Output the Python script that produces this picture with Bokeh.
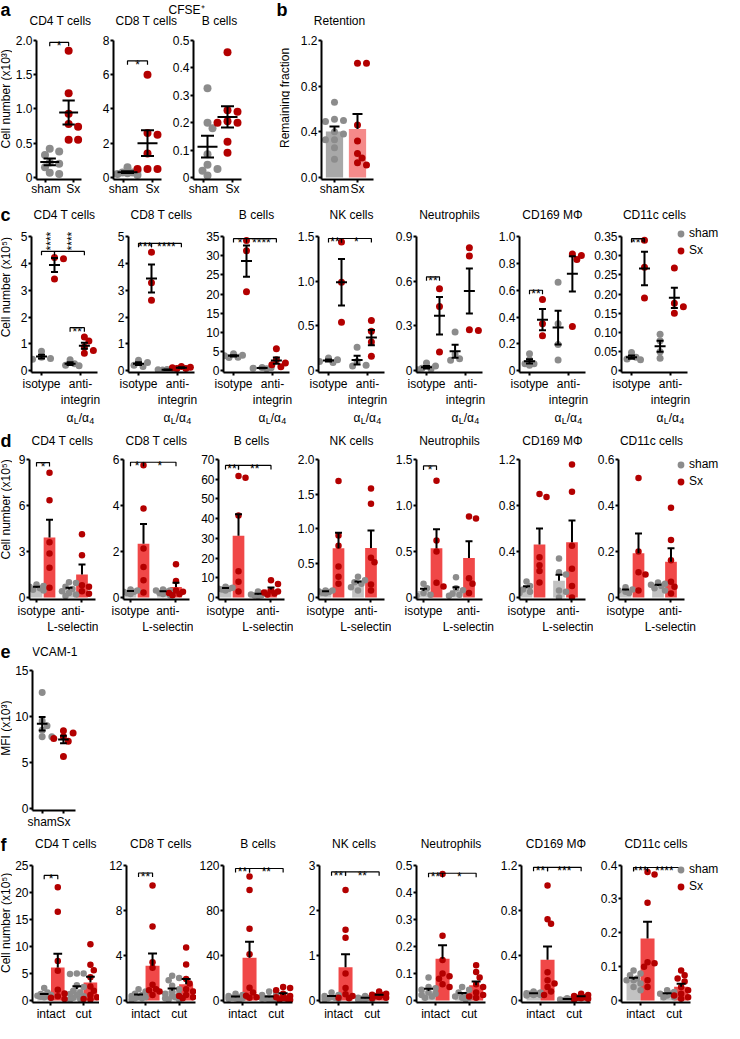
import math
import statistics
from bokeh.plotting import figure
from bokeh.models import FixedTicker, Label, Legend, LegendItem, Range1d
from bokeh.layouts import row, column
from bokeh.embed import file_html
from bokeh.resources import INLINE

FONT = "Liberation Sans"
PT_SHAM = "#8c8c8c"
PT_SX = "#b30000"
BAR_SHAM = "#c2c2c2"
BAR_SX = "#f04848"
BAR_SHAM_B = "#a8a8a8"
BAR_SX_B = "#f58a8a"

CELL_TITLES = ["CD4 T cells", "CD8 T cells", "B cells", "NK cells", "Neutrophils",
               "CD169 M\u03a6", "CD11c cells"]

# ---------------- panel a : CFSE+ cells, groups [sham, Sx] ----------------
A_XLAB = ["sham", "Sx"]
A_CD4 = [[0.42, 0.38, 0.33, 0.22, 0.20, 0.15, 0.07, 0.05],
         [1.85, 1.23, 0.93, 0.78, 0.74, 0.55, 0.55]]
A_CD8 = [[0.6, 0.4, 0.3, 0.25, 0.2, 0.15, 0.3],
         [6.0, 2.6, 2.5, 1.4, 0.5, 0.5, 0.5]]
A_B = [[0.325, 0.2, 0.18, 0.085, 0.047, 0.025, 0.031, 0.007],
       [0.457, 0.245, 0.24, 0.205, 0.2, 0.2, 0.13, 0.09]]
A_TICKS = [[0, 0.5, 1.0, 1.5, 2.0], [0, 2, 4, 6, 8], [0, 0.1, 0.2, 0.3, 0.4, 0.5]]
A_TLAB = [["0", "0.5", "1.0", "1.5", "2.0"], ["0", "2", "4", "6", "8"],
          ["0", "0.1", "0.2", "0.3", "0.4", "0.5"]]
A_SIG = [[(0, 1, 1.97, "*", False)], [(0, 1, 6.8, "*", False)], []]

# ---------------- panel b : retention ----------------
B_RET = [[0.66, 0.51, 0.5, 0.49, 0.4, 0.38, 0.33, 0.33, 0.26, 0.16],
         [1.0, 1.0, 0.46, 0.32, 0.21, 0.17, 0.13, 0.11]]
B_TICKS = [0, 0.4, 0.8, 1.2]
B_TLAB = ["0.0", "0.4", "0.8", "1.2"]

# ---------------- panel c : groups [sham iso, Sx iso, sham anti, Sx anti] ----------------
C_XLAB = ["isotype", "anti-\nintegrin"]
C_CD4 = [[0.72, 0.5, 0.42, 0.45], [4.22, 4.18, 3.42], [0.4, 0.25, 0.2, 0.18], [1.25, 1.1, 0.88, 0.75, 0.65]]
C_CD8 = [[0.38, 0.3, 0.2, 0.15], [4.42, 3.28, 2.63], [0.04, 0.03, 0.03, 0.02, 0.03], [0.15, 0.1, 0.08, 0.08, 0.12]]
C_B = [[4.4, 4.0, 3.5, 3.4, 3.9], [34.0, 31.3, 20.6], [0.8, 0.5, 0.6, 0.7], [5.7, 2.8, 2.0, 1.5, 1.0]]
C_NK = [[0.14, 0.12, 0.1, 0.09], [1.44, 0.99, 0.54], [0.26, 0.1, 0.06, 0.05], [0.56, 0.44, 0.32, 0.16]]
C_NEUT = [[0.05, 0.03, 0.015, 0.01, 0.005], [0.55, 0.43, 0.125], [0.26, 0.11, 0.08, 0.07], [0.825, 0.77, 0.27, 0.275]]
C_CD169 = [[0.125, 0.08, 0.05, 0.04, 0.05], [0.53, 0.35, 0.26], [0.66, 0.35, 0.195, 0.078], [0.87, 0.86, 0.83, 0.33]]
C_CD11C = [[0.047, 0.035, 0.03, 0.028], [0.341, 0.27, 0.19], [0.095, 0.078, 0.032, 0.049], [0.268, 0.176, 0.15, 0.167]]
C_TICKS = [[0, 1, 2, 3, 4, 5], [0, 1, 2, 3, 4, 5], [0, 5, 10, 15, 20, 25, 30, 35], [0, 0.5, 1.0, 1.5],
           [0, 0.3, 0.6, 0.9], [0, 0.2, 0.4, 0.6, 0.8, 1.0], [0, 0.05, 0.1, 0.15, 0.2, 0.25, 0.3, 0.35]]
C_TLAB = [["0", "1", "2", "3", "4", "5"], ["0", "1", "2", "3", "4", "5"],
          ["0", "5", "10", "15", "20", "25", "30", "35"], ["0", "0.5", "1.0", "1.5"],
          ["0", "0.3", "0.6", "0.9"], ["0", "0.2", "0.4", "0.6", "0.8", "1.0"],
          ["0", "0.05", "0.10", "0.15", "0.20", "0.25", "0.30", "0.35"]]
C_SIG = [[(0, 1, 4.45, "****", True), (1, 3, 4.45, "****", True), (2, 3, 1.6, "**", False)],
         [(0, 1, 4.75, "***", False), (1, 3, 4.75, "****", False)],
         [(0, 1, 34.5, "*", False), (1, 3, 34.5, "****", False)],
         [(0, 1, 1.48, "**", False), (1, 3, 1.48, "*", False)],
         [(0, 1, 0.63, "**", False)],
         [(0, 1, 0.6, "**", False)],
         [(0, 1, 0.345, "***", False)]]

# ---------------- panel d : groups [sham iso, Sx iso, sham anti, Sx anti] ----------------
D_XLAB = ["isotype", "anti-\nL-selectin"]
D_CD4 = [[0.85, 0.75, 0.7, 0.6, 0.5, 0.45], [8.13, 6.35, 3.6, 2.87, 1.94, 0.63],
         [1.0, 0.95, 0.7, 0.55, 0.4, 0.3, 0.2, 0.1], [4.13, 2.76, 0.8, 0.7, 0.4, 0.25]]
D_CD8 = [[0.35, 0.3, 0.25, 0.2, 0.15, 0.25], [5.75, 3.87, 2.13, 1.33, 0.75, 0.22],
         [0.35, 0.3, 0.2, 0.15, 0.1, 0.25, 0.3], [1.45, 0.72, 0.3, 0.2, 0.15, 0.1, 0.25]]
D_B = [[5.5, 5.0, 4.5, 4.0, 3.5, 4.5], [61.6, 60.8, 41.6, 13.3, 8.0, 3.0],
       [3.0, 2.0, 1.5, 1.0, 0.8, 1.2], [8.8, 6.8, 3.5, 2.5, 2.0, 1.5, 3.0]]
D_NK = [[0.1, 0.08, 0.07, 0.06, 0.09, 0.1], [1.69, 0.9, 0.75, 0.45, 0.3, 0.2],
        [0.3, 0.25, 0.2, 0.15, 0.1, 0.22], [1.58, 1.36, 0.575, 0.51, 0.19, 0.1]]
D_NEUT = [[0.15, 0.1, 0.05, 0.02, 0.03], [1.27, 0.62, 0.5, 0.16, 0.12],
          [0.22, 0.1, 0.08, 0.04, 0.03, 0.02], [0.88, 0.86, 0.21, 0.15, 0.05]]
D_CD169 = [[0.14, 0.1, 0.07, 0.05, 0.04], [0.9, 0.875, 0.35, 0.28, 0.23, 0.13],
           [0.34, 0.22, 0.2, 0.06, 0.05, 0.0], [1.157, 0.92, 0.45, 0.25, 0.1, 0.0]]
D_CD11C = [[0.045, 0.035, 0.03, 0.025, 0.02], [0.52, 0.2, 0.11, 0.1, 0.03],
           [0.065, 0.06, 0.05, 0.04, 0.03, 0.055], [0.39, 0.25, 0.162, 0.068, 0.047, 0.017]]
D_TICKS = [[0, 3, 6, 9], [0, 2, 4, 6], [0, 10, 20, 30, 40, 50, 60, 70], [0, 0.5, 1.0, 1.5, 2.0],
           [0, 0.5, 1.0, 1.5], [0, 0.4, 0.8, 1.2], [0, 0.2, 0.4, 0.6]]
D_TLAB = [["0", "3", "6", "9"], ["0", "2", "4", "6"], ["0", "10", "20", "30", "40", "50", "60", "70"],
          ["0", "0.5", "1.0", "1.5", "2.0"], ["0", "0.5", "1.0", "1.5"], ["0", "0.4", "0.8", "1.2"],
          ["0", "0.2", "0.4", "0.6"]]
D_SIG = [[(0, 1, 8.8, "*", False)],
         [(0, 1, 5.88, "*", False), (1, 3, 5.88, "*", False)],
         [(0, 1, 67, "**", False), (1, 3, 67, "**", False)],
         [], [(0, 1, 1.43, "*", False)], [], []]

# ---------------- panel e : VCAM-1 ----------------
E_VCAM = [[12.6, 9.5, 9.0, 8.5, 7.8, 7.8], [8.45, 8.2, 7.8, 7.6, 7.3, 5.65]]
E_TICKS = [0, 5, 10, 15]
E_TLAB = ["0", "5", "10", "15"]

# ---------------- panel f : groups [sham intact, Sx intact, sham cut, Sx cut] ----------------
F_XLAB = ["intact", "cut"]
F_CD4 = [[2.3, 1.5, 1.2, 1.0, 0.9, 0.8, 0.6, 0.5, 0.7, 1.0],
         [20.9, 16.4, 7.3, 5.5, 2.0, 1.3, 0.8, 0.5, 0.3],
         [5.0, 5.0, 4.9, 2.8, 2.5, 1.8, 1.5, 1.2, 1.0, 0.8, 0.5, 0.3, 0.2],
         [10.4, 6.6, 5.6, 4.3, 2.6, 1.8, 1.0, 0.6, 0.3, 0.2]]
F_CD8 = [[1.0, 0.8, 0.6, 0.5, 0.4, 0.3, 0.3, 0.2, 0.2, 0.1],
         [10.2, 6.55, 3.4, 2.9, 1.4, 1.0, 0.9, 0.8, 0.5],
         [2.2, 2.0, 1.8, 1.3, 1.0, 0.8, 0.6, 0.5, 0.4, 0.3, 0.2, 0.1, 0.1],
         [4.7, 3.2, 1.9, 1.5, 1.0, 0.8, 0.5, 0.4, 0.3, 0.2]]
F_B = [[6, 5, 4, 3, 2.5, 2, 1.5, 1, 2], [110, 98, 63.5, 41, 11.3, 7.1, 4.2, 2.5, 3],
       [8, 6, 5, 3, 2.5, 2, 1.5, 1, 0.5, 2, 1], [12, 11, 9, 6, 4, 3, 2, 1.5, 1, 0.5]]
F_NK = [[0.18, 0.12, 0.1, 0.08, 0.06, 0.05, 0.04, 0.03],
        [2.45, 1.57, 1.39, 0.6, 0.28, 0.14, 0.1, 0.06, 0.05],
        [0.1, 0.08, 0.06, 0.05, 0.04, 0.03, 0.03, 0.02],
        [0.2, 0.15, 0.13, 0.12, 0.1, 0.08, 0.06, 0.05]]
F_NEUT = [[0.085, 0.05, 0.045, 0.04, 0.03, 0.025, 0.02, 0.015, 0.01],
          [0.467, 0.239, 0.15, 0.1, 0.09, 0.08, 0.06, 0.05],
          [0.05, 0.04, 0.03, 0.02, 0.015, 0.01, 0.01, 0.005],
          [0.13, 0.105, 0.085, 0.06, 0.05, 0.03, 0.02, 0.015, 0.01]]
F_CD169 = [[0.08, 0.07, 0.065, 0.06, 0.06, 0.05, 0.05, 0.045],
           [1.02, 0.72, 0.68, 0.25, 0.18, 0.15, 0.12, 0.08, 0.05],
           [0.02, 0.015, 0.01, 0.01, 0.005, 0.005],
           [0.06, 0.05, 0.04, 0.03, 0.025, 0.02, 0.015, 0.01]]
F_CD11C = [[0.089, 0.08, 0.075, 0.065, 0.06, 0.05, 0.04, 0.03, 0.06],
           [0.38, 0.372, 0.289, 0.113, 0.11, 0.1, 0.06, 0.04],
           [0.03, 0.025, 0.02, 0.02, 0.015, 0.01, 0.01],
           [0.089, 0.075, 0.065, 0.056, 0.04, 0.03, 0.02, 0.015, 0.01, 0.005]]
F_TICKS = [[0, 5, 10, 15, 20, 25], [0, 4, 8, 12], [0, 40, 80, 120], [0, 1, 2, 3],
           [0, 0.1, 0.2, 0.3, 0.4, 0.5], [0, 0.4, 0.8, 1.2], [0, 0.1, 0.2, 0.3, 0.4]]
F_TLAB = [["0", "5", "10", "15", "20", "25"], ["0", "4", "8", "12"], ["0", "40", "80", "120"],
          ["0", "1", "2", "3"], ["0", "0.1", "0.2", "0.3", "0.4", "0.5"], ["0", "0.4", "0.8", "1.2"],
          ["0", "0.1", "0.2", "0.3", "0.4"]]
F_SIG = [[(0, 1, 23.1, "*", False)],
         [(0, 1, 11.3, "**", False)],
         [(0, 1, 117, "**", False), (1, 3, 117, "**", False)],
         [(0, 1, 2.85, "**", False), (1, 3, 2.85, "**", False)],
         [(0, 1, 0.47, "**", False), (1, 3, 0.47, "*", False)],
         [(0, 1, 1.18, "**", False), (1, 3, 1.18, "***", False)],
         [(0, 1, 0.393, "***", False), (1, 3, 0.393, "****", False)]]

GROUP_COLS = [PT_SHAM, PT_SX, PT_SHAM, PT_SX]
BAR_COLS = [BAR_SHAM, BAR_SX, BAR_SHAM, BAR_SX]


# ---------------- helpers ----------------
def make_panel(L, F, W, top_page, zero_page, H0, B, x0, ppx, yticks, ylabels, xticks, xlabels,
               pad=2, xstandoff=1):
    top = yticks[-1]
    ppy = H0 / top
    Hf = zero_page + pad - top_page
    ys = -pad / ppy
    p = figure(width=L + F, height=Hf + B,
               x_range=Range1d(x0, x0 + F / ppx), y_range=Range1d(ys, (zero_page - top_page) / ppy),
               output_backend="svg", toolbar_location=None, tools="",
               min_border_left=L, min_border_right=0, min_border_top=0, min_border_bottom=B)
    p.outline_line_color = None
    p.xgrid.visible = False
    p.ygrid.visible = False
    p.background_fill_color = "white"
    p.border_fill_color = "white"
    for ax in (p.xaxis[0], p.yaxis[0]):
        ax.axis_line_width = 2
        ax.axis_line_color = "black"
        ax.major_tick_line_width = 2
        ax.major_tick_line_color = "black"
        ax.major_tick_out = 3
        ax.major_tick_in = 0
        ax.minor_tick_line_color = None
        ax.major_label_text_font = FONT
        ax.major_label_text_font_size = "12px"
        ax.major_label_text_color = "black"
    p.yaxis[0].ticker = FixedTicker(ticks=yticks, minor_ticks=[])
    p.yaxis[0].major_label_overrides = dict(zip(yticks, ylabels))
    p.yaxis[0].major_label_standoff = 1
    p.yaxis[0].bounds = (ys, top)
    p.xaxis[0].ticker = FixedTicker(ticks=xticks, minor_ticks=[])
    p.xaxis[0].major_label_overrides = dict(zip(xticks, xlabels))
    p.xaxis[0].major_label_standoff = xstandoff
    p.xaxis[0].bounds = (x0, x0 + W / ppx)
    return dict(p=p, ppx=ppx, ppy=ppy, x0=x0, top=top, W=W, zero=zero_page)


def make_strip(w, h):
    p = figure(width=w, height=h, x_range=Range1d(0, w), y_range=Range1d(0, h),
               output_backend="svg", toolbar_location=None, tools="",
               x_axis_type=None, y_axis_type=None, min_border=0)
    p.outline_line_color = None
    p.background_fill_color = "white"
    p.border_fill_color = "white"
    p.xgrid.visible = False
    p.ygrid.visible = False
    return dict(p=p, h=h)


def label(p, x, y, s, size=12, align="center", baseline="middle", bold=False, angle=0.0, xoff=0):
    p.add_layout(Label(x=x, y=y, text=s, text_font=FONT, text_font_size=f"{size}px",
                       text_align=align, text_baseline=baseline,
                       text_font_style="bold" if bold else "normal",
                       angle=angle, x_offset=xoff, text_color="black"))


def stxt(S, x, y_from_top, s, **kw):
    label(S["p"], x, S["h"] - y_from_top, s, **kw)


def xd(P, px):
    return P["x0"] + px / P["ppx"]


def ypage(P, page_y):
    return (P["zero"] - page_y) / P["ppy"]


def dodge(vals, ppy, dot, step, maxk):
    order = sorted(range(len(vals)), key=lambda i: -vals[i])
    cands = [0.0]
    for k in range(1, maxk + 1):
        cands += [k * step, -k * step]
    placed = []
    offs = [0.0] * len(vals)
    for i in order:
        yy = vals[i] * ppy
        best, bestd = 0.0, -1.0
        for c in cands:
            dmin = min([math.hypot(c - xo, yy - yo) for xo, yo in placed], default=1e9)
            if dmin >= dot:
                best = c
                break
            if dmin > bestd:
                bestd, best = dmin, c
        offs[i] = best
        placed.append((best, yy))
    return offs


def draw_groups(P, groups, xs, cols, dot, step, maxk, kind, bar_cols=None, bar_w=None,
                mean_hw=5.0, cap_hw=3.5):
    p = P["p"]
    means = [sum(g) / len(g) for g in groups]
    sems = [statistics.stdev(g) / math.sqrt(len(g)) for g in groups]
    if kind == "bar":
        p.vbar(x=xs, top=means, bottom=0, width=bar_w, fill_color=bar_cols, line_color=None)
    rends = {}
    for col in (PT_SHAM, PT_SX):
        px, py = [], []
        for g, x, c in zip(groups, xs, cols):
            if c != col:
                continue
            offs = dodge(g, P["ppy"], dot * 0.85, step, maxk)
            px += [x + o / P["ppx"] for o in offs]
            py += list(g)
        rends[col] = p.scatter(px, py, size=dot, fill_color=col, line_color=None)
    x0, y0, x1, y1 = [], [], [], []

    def seg(a, b, c, d):
        x0.append(a); y0.append(b); x1.append(c); y1.append(d)

    hwm = mean_hw / P["ppx"]
    hwc = cap_hw / P["ppx"]
    for x, m, s in zip(xs, means, sems):
        if kind == "bar":
            seg(x, m, x, m + s)
            seg(x - hwc, m + s, x + hwc, m + s)
        else:
            seg(x - hwm, m, x + hwm, m)
            seg(x, m - s, x, m + s)
            seg(x - hwc, m - s, x + hwc, m - s)
            seg(x - hwc, m + s, x + hwc, m + s)
    p.segment(x0, y0, x1, y1, line_color="black", line_width=2)
    return rends


def brackets(P, xs, specs):
    if not specs:
        return
    xl, yl = [], []
    for i, j, y, s, vert in specs:
        xa, xb = xs[i], xs[j]
        d = 4 / P["ppy"]
        xl.append([xa, xa, xb, xb])
        yl.append([y - d, y, y, y - d])
        mid = (xa + xb) / 2
        if vert:
            label(P["p"], mid, y + 1 / P["ppy"], s, align="left", baseline="middle",
                  angle=math.pi / 2, xoff=3)
        else:
            label(P["p"], mid, y - 4 / P["ppy"], s, align="center", baseline="alphabetic")
    P["p"].multi_line(xl, yl, line_color="black", line_width=1.2)


def add_legend(P, rends, vx, vy):
    leg = Legend(items=[LegendItem(label="sham", renderers=[rends[PT_SHAM]]),
                        LegendItem(label="Sx", renderers=[rends[PT_SX]])],
                 location=(vx, vy), orientation="vertical", border_line_color=None,
                 background_fill_alpha=0, padding=0, margin=0, spacing=0,
                 glyph_width=17, glyph_height=17, label_height=17, label_standoff=0,
                 label_text_font=FONT, label_text_font_size="12px", label_text_color="black")
    P["p"].add_layout(leg)


# ================= row a + b =================
HEAD_A = make_strip(724, 28)
stxt(HEAD_A, 0, 9, "a", size=18, align="left", bold=True)
stxt(HEAD_A, 186, 9, "CFSE\u207a")
stxt(HEAD_A, 276, 9, "b", size=18, align="left", bold=True)
for s, cx in zip(CELL_TITLES[:3] + ["Retention"], [60, 146, 219, 339]):
    stxt(HEAD_A, cx, 20, s)

ROW_A = []
A_L = [21, 25, 25]
for k, (data, tk, tl, sig) in enumerate(zip([A_CD4, A_CD8, A_B], A_TICKS, A_TLAB, A_SIG)):
    P = make_panel(A_L[k], 55, 48, 28, 179, 139, 22, 0.3, 20.0, tk, tl, [0.8, 2.25], A_XLAB, xstandoff=-1)
    draw_groups(P, data, [1, 2], [PT_SHAM, PT_SX], 8, 5, 2, "scatter", mean_hw=10, cap_hw=6.5)
    brackets(P, [1, 2], sig)
    ROW_A.append(P)
YL_A = make_strip(12, 175)
stxt(YL_A, 5.5, 81.5, "Cell number (x10\u00b3)", angle=math.pi / 2)
YL_B = make_strip(42, 175)
stxt(YL_B, 36, 80.5, "Remaining fraction", angle=math.pi / 2)
PB = make_panel(31, 67, 52, 28, 177, 137, 24, 0.435, 23.0, B_TICKS, B_TLAB, [1, 2], A_XLAB, xstandoff=-1)
draw_groups(PB, B_RET, [1, 2], [PT_SHAM, PT_SX], 7, 4.5, 2, "bar",
            bar_cols=[BAR_SHAM_B, BAR_SX_B], bar_w=0.75, cap_hw=5)

# ================= row c =================
ROW_C = []
C_L = [19, 25, 25, 25, 25, 25, 31]
C_F = [72, 70, 70, 73, 78, 71, 103]
C_AX = [31, 128, 223, 318, 416, 519, 621]
C_XS = [1, 2, 3.2, 4.3]
C_PPX = 66 / 5.08
for k, data in enumerate([C_CD4, C_CD8, C_B, C_NK, C_NEUT, C_CD169, C_CD11C]):
    P = make_panel(C_L[k], C_F[k], 66, 203, 374, 137, 34, 0.23, C_PPX, C_TICKS[k], C_TLAB[k],
                   [1.0, 4.0], C_XLAB)
    rc = draw_groups(P, data, C_XS, GROUP_COLS, 7, 4.5, 2, "scatter", mean_hw=5.5, cap_hw=3.5)
    brackets(P, C_XS, C_SIG[k])
    label(P["p"], xd(P, 33), ypage(P, 215), CELL_TITLES[k])
    ROW_C.append(P)
add_legend(ROW_C[6], rc, 51, 113.5)
YL_C = make_strip(12, 207)
stxt(YL_C, 0, 14, "c", size=18, align="left", bold=True)
stxt(YL_C, 5.5, 102.5, "Cell number (x10\u2075)", angle=math.pi / 2)
# third line of the anti-integrin tick label: alpha_L / alpha_4
SUB_C = make_strip(724, 20)
for ax in C_AX:
    cx = ax + (4.0 - 0.23) * C_PPX
    for s, sz, off, yy in (("\u03b1", 12, -14, 7), ("L", 9, -6.8, 10), ("/\u03b1", 12, -1.8, 7), ("4", 9, 8.8, 10)):
        stxt(SUB_C, cx + off, yy, s, size=sz, align="left")

# ================= row d =================
ROW_D = []
D_L = [17, 25, 25, 25, 25, 25, 25]
D_F = [69, 70, 75, 73, 78, 74, 106]
D_XS = [1, 2, 3.5, 4.5]
D_PPX = 66 / 5.08
for k, data in enumerate([D_CD4, D_CD8, D_B, D_NK, D_NEUT, D_CD169, D_CD11C]):
    P = make_panel(D_L[k], D_F[k], 66, 430, 597, 138, 41, 0.46, D_PPX, D_TICKS[k], D_TLAB[k],
                   [1.0, 4.45], D_XLAB)
    rd = draw_groups(P, data, D_XS, GROUP_COLS, 6.5, 3.5, 2, "bar", bar_cols=BAR_COLS, bar_w=0.9, cap_hw=3.5)
    brackets(P, D_XS, D_SIG[k])
    label(P["p"], xd(P, 33), ypage(P, 440), CELL_TITLES[k])
    ROW_D.append(P)
add_legend(ROW_D[6], rd, 54, 109.5)
YL_D = make_strip(12, 210)
stxt(YL_D, 0, 13, "d", size=18, align="left", bold=True)
stxt(YL_D, 5.5, 98, "Cell number (x10\u2075)", angle=math.pi / 2)

# ================= row e =================
PE = make_panel(18, 60, 44, 640, 808, 138, 22, 0.545, 22.0, E_TICKS, E_TLAB, [1, 2], A_XLAB)
draw_groups(PE, E_VCAM, [1, 2], [PT_SHAM, PT_SX], 7, 5, 2, "scatter", mean_hw=5.5, cap_hw=3.5)
label(PE["p"], xd(PE, 23), ypage(PE, 651), "VCAM-1")
YL_E = make_strip(12, 192)
stxt(YL_E, 0, 12, "e", size=18, align="left", bold=True)
stxt(YL_E, 5.5, 99, "MFI (x10\u00b3)", angle=math.pi / 2)

# ================= row f =================
ROW_F = []
F_L = [18, 27, 27, 25, 25, 25, 25]
F_F = [69, 70, 71, 72, 80, 75, 103]
F_XS = [1, 2, 3.4, 4.4]
for k, data in enumerate([F_CD4, F_CD8, F_B, F_NK, F_NEUT, F_CD169, F_CD11C]):
    P = make_panel(F_L[k], F_F[k], 69, 832, 1002, 137, 19, 0.14, 14.0, F_TICKS[k], F_TLAB[k],
                   [1.5, 3.9], F_XLAB)
    rf = draw_groups(P, data, F_XS, GROUP_COLS, 6.5, 3.5, 2, "bar", bar_cols=BAR_COLS, bar_w=1.0, cap_hw=4.5)
    brackets(P, F_XS, F_SIG[k])
    label(P["p"], xd(P, 34.5), ypage(P, 844), CELL_TITLES[k])
    ROW_F.append(P)
add_legend(ROW_F[6], rf, 51, 107.5)
YL_F = make_strip(12, 191)
stxt(YL_F, 0, 14, "f", size=18, align="left", bold=True)
stxt(YL_F, 5.5, 101.5, "Cell number (x10\u2075)", angle=math.pi / 2)

layout = column(
    HEAD_A["p"],
    row(YL_A["p"], *[P["p"] for P in ROW_A], YL_B["p"], PB["p"]),
    row(YL_C["p"], *[P["p"] for P in ROW_C]),
    SUB_C["p"],
    row(YL_D["p"], *[P["p"] for P in ROW_D]),
    row(YL_E["p"], PE["p"]),
    row(YL_F["p"], *[P["p"] for P in ROW_F]),
)

open("out.html", "w").write(file_html(layout, INLINE))
